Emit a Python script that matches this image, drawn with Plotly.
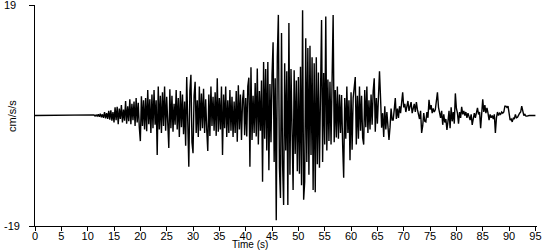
import plotly.graph_objects as go

# Acceleration record (cm/s/s). Quiet pre-event segment from 0 s, then
# samples every 0.2 s starting at 11.0 s (one row per second).
pre_event_t = [0.0]
pre_event_v = [0.0]
sample_start = 11.0
sample_dt = 0.2
accel = [
    0.0, 0.1, -0.1, 0.1, -0.1,      # 11
    0.2, -0.2, 0.3, -0.3, 0.2,      # 12
    -0.4, 0.6, -0.5, 0.4, -0.6,     # 13
    0.8, -0.7, 0.9, -0.9, 0.6,      # 14
    -1.2, 1.4, -0.8, 1.5, -1.5,     # 15
    1.2, -0.6, 1.8, -1.2, 1.0,      # 16
    -0.9, 2.5, -1.4, 1.6, -1.0,     # 17
    2.8, -1.5, 2.0, -0.8, 2.4,      # 18
    -1.8, 3.0, -1.2, 2.2, -2.0,     # 19
    -4.4, 3.3, -1.8, 2.6, -2.4,     # 20
    3.0, -2.7, 4.4, -1.5, 2.8,      # 21
    -3.0, 3.6, -2.2, 4.4, -1.6,     # 22
    2.6, -6.8, 5.0, -2.4, 3.4,      # 23
    -3.0, 4.0, -1.8, 5.0, -2.6,     # 24
    3.2, -2.0, -5.6, 4.5, -2.2,     # 25
    3.4, -2.8, 2.0, -1.6, 4.4,      # 26
    -2.4, 3.0, -3.7, 4.2, -2.0,     # 27
    3.6, -3.2, 2.4, -5.2, 6.6,      # 28
    -3.0, -8.8, 4.2, 7.0, -4.6,     # 29
    -6.5, 3.4, 5.8, -3.0, 2.6,      # 30
    -3.7, 5.0, -2.6, 3.8, -2.2,     # 31
    4.6, -3.0, 2.8, -2.4, -6.1,     # 32
    3.6, -3.5, 5.0, -1.8, 3.2,      # 33
    -2.6, 4.0, -3.5, 6.4, -2.8,     # 34
    3.0, -2.4, 5.0, -6.8, 3.6,      # 35
    -2.2, 5.0, -3.7, 2.6, -3.0,     # 36
    4.4, -2.6, 3.2, -3.7, 2.4,      # 37
    -3.0, 4.2, -4.5, 5.2, -2.4,     # 38
    3.6, -4.2, 2.6, 4.4, -3.4,      # 39
    3.0, -3.6, 5.0, 6.5, -8.8,      # 40
    8.3, -4.2, 3.4, -3.0, 5.6,      # 41
    -3.6, 8.1, -5.0, 4.2, -2.6,     # 42
    6.0, -11.4, 9.2, -4.0, 8.0,     # 43
    -6.0, 9.2, -9.4, 5.4, -4.6,     # 44
    7.0, 12.6, -8.0, 6.4, -18.0,    # 45
    10.0, 17.3, -9.0, -14.2, 14.2,  # 46
    -8.4, -15.4, 9.0, -6.0, 7.6,    # 47
    -15.4, 15.9, -10.2, 8.0, -7.0,  # 48
    -12.8, 7.8, -6.6, 6.0, -9.6,    # 49
    6.6, -10.0, 8.4, -12.0, 18.1,   # 50
    -14.5, -11.4, 13.3, -8.0, 11.6, # 51
    -10.2, 12.0, -6.8, 10.0, -12.8, # 52
    9.0, -13.2, 10.0, -8.4, 7.4,    # 53
    -9.0, 6.6, 16.4, -8.0, 7.3,     # 54
    -5.0, 17.0, -6.0, 6.2, -4.4,    # 55
    5.8, -5.0, 7.0, 17.3, -4.6,     # 56
    4.4, -3.8, 5.0, -4.0, 3.6,      # 57
    -3.0, 3.5, -5.0, -10.7, 3.0,    # 58
    -4.0, 5.0, -3.0, 2.6, -7.7,     # 59
    4.0, -5.9, 3.0, 4.6, 6.6,       # 60
    -5.0, 3.4, -4.0, 5.0, -2.6,     # 61
    3.4, -3.8, -5.0, 4.4, -2.0,     # 62
    5.0, -3.0, 2.6, -2.4, 3.6,      # 63
    -1.6, 4.2, 6.4, -2.8, 3.0,      # 64
    -1.4, 2.4, 7.6, 3.0, -2.1,      # 65
    0.4, -3.7, 1.6, -2.4, 0.6,      # 66
    -1.6, -4.2, -2.0, 1.2, -0.8,    # 67
    -0.8, 1.0, 3.0, -0.6, 1.2,      # 68
    -0.4, 1.6, 0.4, 2.2, 4.0,       # 69
    1.4, 2.0, 0.6, 1.3, 2.5,        # 70
    0.8, 1.6, 2.3, 0.4, 1.4,        # 71
    2.0, 0.6, 2.3, 1.0, 0.2,        # 72
    -0.6, 0.8, -3.0, -1.8, 0.4,     # 73
    -1.0, -1.1, 0.6, -0.4, 2.7,     # 74
    1.0, 1.8, 0.4, 1.2, 0.6,        # 75
    1.0, 2.4, 4.0, 1.4, 0.6,        # 76
    -0.4, 0.8, -1.6, 0.2, -1.2,     # 77
    -0.6, -2.5, -1.0, 0.8, -2.2,    # 78
    1.4, -1.0, 0.6, -1.4, 3.8,      # 79
    1.2, 0.4, -1.4, 0.6, -0.4,      # 80
    1.5, 0.2, 0.8, 0.0, 0.6,        # 81
    -0.4, 0.4, -0.2, -0.8, 0.2,     # 82
    -1.6, -0.6, 0.4, -0.4, 0.6,     # 83
    1.3, 0.2, 0.6, -2.2, 0.4,       # 84
    2.8, 0.6, 1.8, 0.4, 1.3,        # 85
    0.4, -0.8, 0.2, -0.4, 0.0,      # 86
    -0.6, 0.2, -3.0, -0.4, 0.6,     # 87
    0.0, 0.4, 0.2, 0.6, 0.4,        # 88
    0.6, 1.6, 1.6, 1.4, 1.6,        # 89
    0.4, -0.8, -0.6, -1.1, -0.4,    # 90
    -0.6, 0.2, -0.4, -0.3, 0.2,     # 91
    0.4, 0.6, 1.6, 0.8, 0.0,        # 92
    0.2, -0.1, -0.1, 0.0, 0.0,      # 93
    0.0, 0.0, 0.0, 0.0, 0.0,        # 94
    0.0,                            # 95
]

x_ticks = [0, 5, 10, 15, 20, 25, 30, 35, 40, 45, 50, 55, 60, 65, 70, 75, 80, 85, 90, 95]
y_ticks = [-19, 19]
y_tick_labels = ["-19", "19"]

times = pre_event_t + [round(sample_start + sample_dt * i, 3) for i in range(len(accel))]
values = pre_event_v + accel

FONT = "Liberation Sans, Arial, sans-serif"
ML, MR, MT, MB = 35, 13, 5, 24
W, H = 550, 250
plot_w = W - ML - MR
plot_h = H - MT - MB


def px_x(px):
    return (px - ML) / plot_w


def px_y(py):
    return (H - MB - py) / plot_h


fig = go.Figure()
fig.add_trace(go.Scatter(x=times, y=values, mode="lines",
                         line=dict(color="black", width=1.4), hoverinfo="skip"))

annotations = [
    dict(text="Time (s)", x=px_x(250), y=px_y(244.5), xref="paper", yref="paper",
         showarrow=False, font=dict(family=FONT, size=10, color="black"),
         xanchor="center", yanchor="middle"),
    dict(text="cm/s/s", x=px_x(12), y=px_y(116), xref="paper", yref="paper",
         textangle=-90, showarrow=False,
         font=dict(family=FONT, size=11, color="black"),
         xanchor="center", yanchor="middle"),
]
# y tick labels placed like the reference (left of the axis)
for val, lab, cx in zip(y_ticks, y_tick_labels, [12, 10]):
    annotations.append(dict(text=lab, x=px_x(cx), y=val, xref="paper", yref="y",
                            showarrow=False, xanchor="center", yanchor="middle",
                            font=dict(family=FONT, size=11, color="black")))

fig.update_layout(
    width=W, height=H,
    margin=dict(l=ML, r=MR, t=MT, b=MB),
    paper_bgcolor="white", plot_bgcolor="white",
    showlegend=False,
    font=dict(family=FONT, size=11, color="black"),
    xaxis=dict(range=[0, 95.3], tickmode="array", tickvals=x_ticks,
               showgrid=False, zeroline=False, showline=True, linecolor="black",
               linewidth=1, ticks="", ticklabelstandoff=0,
               tickfont=dict(family=FONT, size=11, color="black"),
               minor=dict(ticks="outside", ticklen=4, tickcolor="black",
                          tick0=0, dtick=5, showgrid=False)),
    yaxis=dict(range=[-19, 19], tickmode="array", tickvals=y_ticks,
               showticklabels=False, showgrid=False, zeroline=False,
               showline=True, linecolor="black", linewidth=1,
               ticks="outside", ticklen=5, tickcolor="black"),
    annotations=annotations,
)

fig.write_html("out.html")
